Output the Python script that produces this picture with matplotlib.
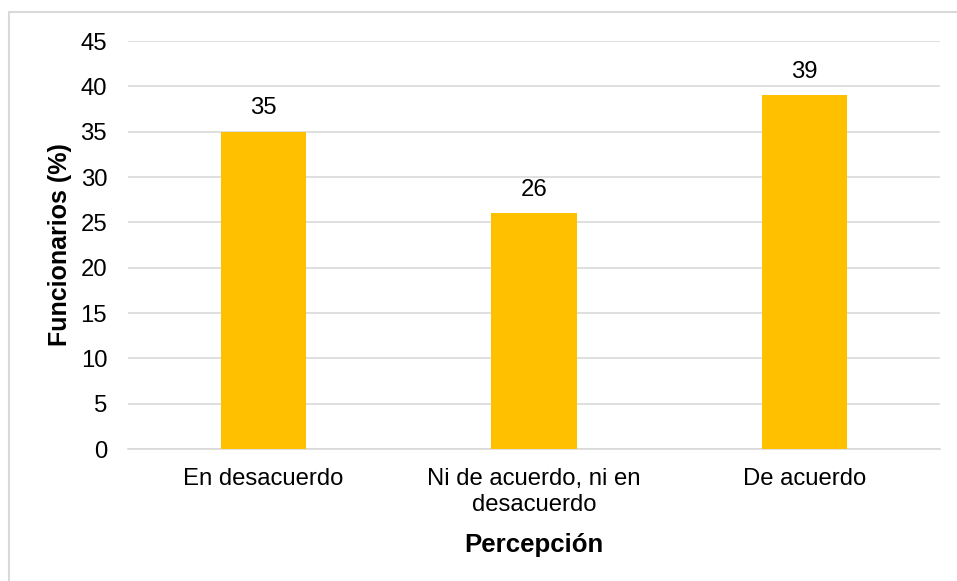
import matplotlib.pyplot as plt
from matplotlib.patches import Rectangle

categories = ["En desacuerdo", "Ni de acuerdo, ni en\ndesacuerdo", "De acuerdo"]
values = [35, 26, 39]
y_ticks = [0, 5, 10, 15, 20, 25, 30, 35, 40, 45]

plt.rcParams['font.family'] = ['Liberation Sans', 'DejaVu Sans']

fig = plt.figure(figsize=(9.57, 5.81), dpi=100)
ax = fig.add_axes([128 / 957, 1 - 449 / 581, (940 - 128) / 957, (449 - 41) / 581])

# light gray outer frame (only top and left edges visible in the image)
fig.patches.append(Rectangle((9 / 957, -0.1), 1.2, 1 - 12 / 581 + 0.1,
                             transform=fig.transFigure, fill=False,
                             edgecolor='#d9d9d9', linewidth=1.5))

x = list(range(len(categories)))
bars = ax.bar(x, values, width=0.315, color='#FFC000', zorder=3)
for rect, v in zip(bars, values):
    ax.annotate(str(v), (rect.get_x() + rect.get_width() / 2, v),
                xytext=(0, 9), textcoords='offset points',
                ha='center', va='bottom', fontsize=17.2)

ax.set_xlim(-0.5, 2.5)
ax.set_ylim(0, 45)
ax.set_yticks(y_ticks)
ax.set_xticks(x)
ax.set_xticklabels(categories, linespacing=1.2)
ax.tick_params(axis='both', length=0, labelsize=17.2)
ax.tick_params(axis='y', pad=15)
ax.tick_params(axis='x', pad=14)
ax.grid(axis='y', color='#d9d9d9', linewidth=1.2, zorder=0)
ax.set_axisbelow(True)
for s in ['top', 'right', 'left']:
    ax.spines[s].set_visible(False)
ax.spines['bottom'].set_color('#d9d9d9')
ax.spines['bottom'].set_linewidth(1.2)

ax.set_ylabel("Funcionarios (%)", fontsize=18, fontweight='bold', labelpad=6)
ax.set_xlabel("Percepción", fontsize=18.6, fontweight='bold', labelpad=12)

plt.savefig('out.png', dpi=100)
plt.close()
